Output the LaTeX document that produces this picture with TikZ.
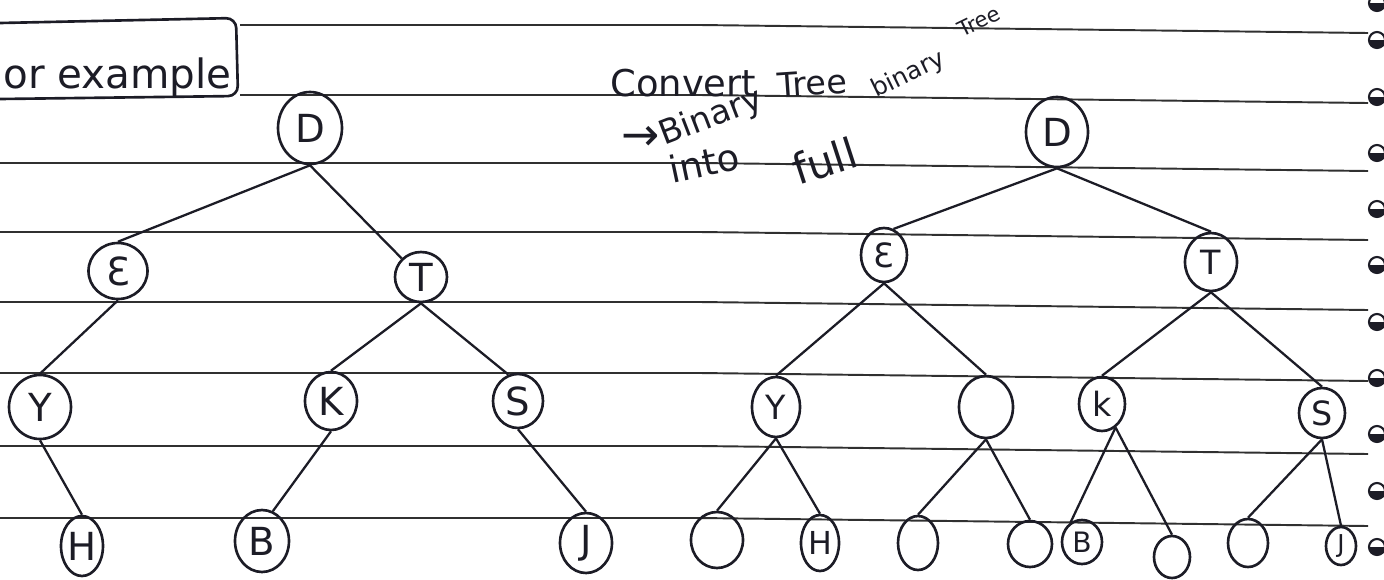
\documentclass[tikz,border=0pt]{standalone}
\usepackage{fontspec}
\setmainfont{DejaVu Sans}
\usepackage{tikz}
\usetikzlibrary{shapes.geometric}

\definecolor{ink}{HTML}{1C1C26}
\definecolor{rulegray}{HTML}{303030}
\newcommand{\fs}[1]{\fontsize{#1}{#1}\selectfont}

\begin{document}
\begin{tikzpicture}[x=0.2mm, y=-0.2mm,
    vtx/.style={ellipse, draw=ink, line width=1.5pt, inner sep=0pt, text=ink},
    sz/.style 2 args={minimum width=#1*0.2mm, minimum height=#2*0.2mm},
    branch/.style={draw=ink, line width=1.3pt},
    ruled/.style={draw=rulegray, line width=1.1pt},
    hand/.style={text=ink, inner sep=0pt}]
  \useasboundingbox (0,0) rectangle (1384,579);
  \clip (0,0) rectangle (1384,579);

  % Ruled lines of the page
  \foreach \ry in {25,95}
    \draw[ruled] (240,\ry) -- (700,\ry) -- (1368,\ry+8);
  \foreach \ry in {163,232,302,373,446,518}
    \draw[ruled] (0,\ry) -- (700,\ry) -- (1368,\ry+8);

  % Heading box
  \draw[ink, line width=1.5pt, rounded corners=2mm] (0,23) -- (236,18) -- (238,96) -- (0,99);
  \node[hand, anchor=base east, font=\fs{23}] (ex) at (232,88) {or example};

  % Note
  \node[hand, anchor=base west, font=\fs{21}] (cvt) at (610,96) {Convert};
  \node[hand, font=\fs{26}] (arr) at (641,138) {→};
  \node[hand, anchor=base west, rotate=21, font=\fs{19}] (bin) at (664,146) {Binary};
  \node[hand, anchor=base west, rotate=4, font=\fs{19}] (tre) at (778,98) {Tree};
  \node[hand, anchor=base west, rotate=26, font=\fs{14}] (bin2) at (876,98) {binary};
  \node[hand, anchor=base west, rotate=26, font=\fs{12}] (tre2) at (962,38) {Tree};
  \node[hand, anchor=base west, rotate=12, font=\fs{21}] (into) at (672,184) {into};
  \node[hand, anchor=base west, rotate=18, font=\fs{24}] (full) at (798,186) {full};

  % Binary tree
  \node[vtx, sz={64}{72}, font=\fs{22}] (lD) at (310,128) {D};
  \node[vtx, sz={59}{56}, font=\fs{22}] (lE) at (118,271) {Ɛ};
  \node[vtx, sz={52}{50}, font=\fs{22}] (lT) at (421,277) {T};
  \node[vtx, sz={62}{64}, font=\fs{22}] (lY) at (40,407) {Y};
  \node[vtx, sz={52}{58}, font=\fs{22}] (lK) at (331,401) {K};
  \node[vtx, sz={50}{54}, font=\fs{22}] (lS) at (518,401) {S};
  \node[vtx, sz={42}{60}, font=\fs{22}] (lH) at (82,546) {H};
  \node[vtx, sz={54}{62}, font=\fs{22}] (lB) at (262,541) {B};
  \node[vtx, sz={52}{60}, font=\fs{22}] (lJ) at (586,543) {J};

  \draw[branch] (lD.south) -- (lE.north);
  \draw[branch] (lD.south) -- (lT.north west);
  \draw[branch] (lE.south) -- (lY.north);
  \draw[branch] (lT.south) -- (lK.north);
  \draw[branch] (lT.south) -- (lS.110);
  \draw[branch] (lY.south) -- (lH.north);
  \draw[branch] (lK.south) -- (lB.70);
  \draw[branch] (lS.south) -- (lJ.north);

  % Full binary tree
  \node[vtx, sz={62}{70}, font=\fs{22}] (rD) at (1057,132) {D};
  \node[vtx, sz={46}{54}, font=\fs{19}] (rE) at (884,255) {Ɛ};
  \node[vtx, sz={52}{58}, font=\fs{19}] (rT) at (1211,262) {T};
  \node[vtx, sz={48}{60}, font=\fs{19}] (rY) at (776,407) {Y};
  \node[vtx, sz={54}{62}] (rN) at (986,407) {};
  \node[vtx, sz={46}{54}, font=\fs{19}] (rK) at (1102,404) {k};
  \node[vtx, sz={46}{50}, font=\fs{19}] (rS) at (1322,413) {S};
  \node[vtx, sz={52}{56}] (rL1) at (717,540) {};
  \node[vtx, sz={38}{56}, font=\fs{18}] (rH) at (820,543) {H};
  \node[vtx, sz={40}{54}] (rL3) at (918,543) {};
  \node[vtx, sz={44}{46}] (rL4) at (1030,544) {};
  \node[vtx, sz={40}{44}, font=\fs{16}] (rB) at (1082,542) {B};
  \node[vtx, sz={36}{42}] (rL6) at (1172,557) {};
  \node[vtx, sz={40}{48}] (rL7) at (1248,543) {};
  \node[vtx, sz={30}{38}, font=\fs{14}] (rJ) at (1341,546) {J};

  \draw[branch] (rD.south) -- (rE.70);
  \draw[branch] (rD.south) -- (rT.north);
  \draw[branch] (rE.south) -- (rY.north);
  \draw[branch] (rE.south) -- (rN.north);
  \draw[branch] (rT.south) -- (rK.north);
  \draw[branch] (rT.south) -- (rS.north);
  \draw[branch] (rY.south) -- (rL1.north);
  \draw[branch] (rY.south) -- (rH.north);
  \draw[branch] (rN.south) -- (rL3.north);
  \draw[branch] (rN.south) -- (rL4.north);
  \draw[branch] (rK.-60) -- (rB.120);
  \draw[branch] (rK.-60) -- (rL6.north);
  \draw[branch] (rS.south) -- (rL7.north);
  \draw[branch] (rS.south) -- (rJ.north);

  % Binding holes
  \foreach \hy in {3,40,97,153,209,265,322,378,434,491,547} {
    \draw[ink, line width=1.2pt] (1377,\hy) circle[radius=8];
    \fill[ink] (1385,\hy) arc[start angle=0, end angle=180, radius=8] -- cycle;
  }
\end{tikzpicture}
\end{document}
